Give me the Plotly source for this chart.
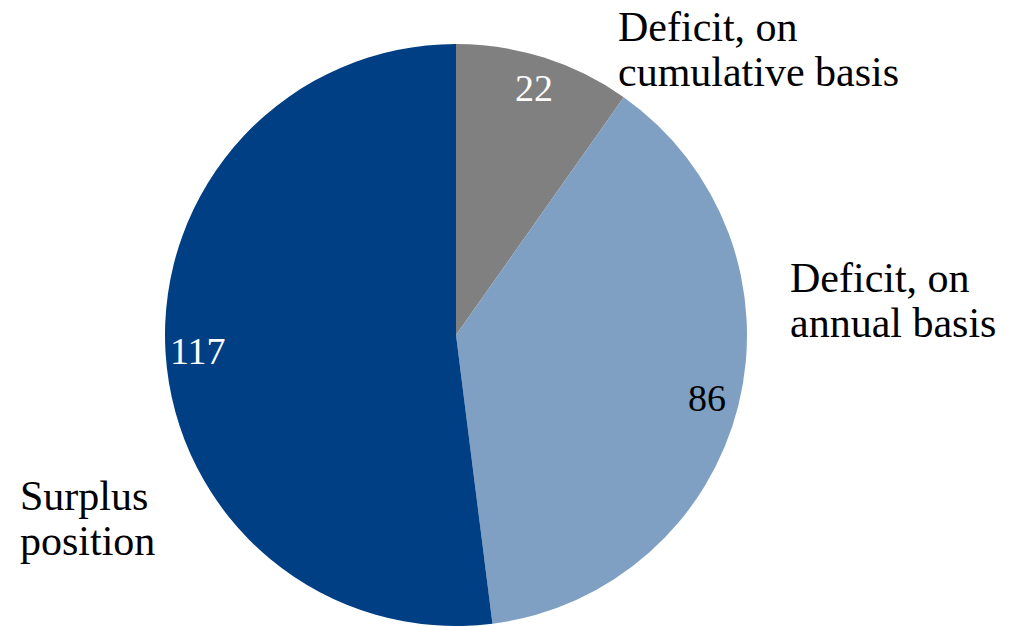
import math
import plotly.graph_objects as go

categories = ["Deficit, on cumulative basis", "Deficit, on annual basis", "Surplus position"]
values = [22, 86, 117]
colors = ["#808080", "#7FA0C3", "#003F84"]
value_font_colors = ["white", "black", "white"]
label_lines = [["Deficit, on", "cumulative basis"], ["Deficit, on", "annual basis"], ["Surplus", "position"]]

W, H = 1020, 627
FONT = "Liberation Serif"
FS_LABEL = 42
FS_VALUE = 38
LINE_GAP = 45  # pixels between baselines

cx, cy, R = 456, 335, 291  # pie centre/radius in pixels
dom_x = [(cx - R) / W, (cx + R) / W]
dom_y = [(H - (cy + R)) / H, (H - (cy - R)) / H]

fig = go.Figure(go.Pie(
    labels=categories, values=values, sort=False, direction="clockwise", rotation=0,
    marker=dict(colors=colors, line=dict(color="white", width=0)),
    textinfo="none", hoverinfo="label+value", showlegend=False,
    domain=dict(x=dom_x, y=dom_y),
))

annotations = []
total = sum(values)
cum = 0
for v, fc in zip(values, value_font_colors):
    mid = (cum + v / 2) / total * 2 * math.pi
    cum += v
    r = 0.89 * R
    px = cx + r * math.sin(mid)
    py = cy - r * math.cos(mid)
    annotations.append(dict(x=px / W, y=1 - py / H, xref="paper", yref="paper",
                            text=str(v), showarrow=False,
                            font=dict(family=FONT, size=FS_VALUE, color=fc),
                            xanchor="center", yanchor="middle"))

# (left x, vertical centre of first line) in pixels
label_pos = [(616, 27), (788, 278), (18, 496)]
for lines, (lx, ly) in zip(label_lines, label_pos):
    for i, t in enumerate(lines):
        annotations.append(dict(x=lx / W, y=1 - (ly + i * LINE_GAP) / H,
                                xref="paper", yref="paper",
                                text=t, showarrow=False, align="left",
                                font=dict(family=FONT, size=FS_LABEL, color="black"),
                                xanchor="left", yanchor="middle"))

fig.update_layout(width=W, height=H, margin=dict(l=0, r=0, t=0, b=0),
                  paper_bgcolor="white", plot_bgcolor="white",
                  annotations=annotations)
fig.write_html("out.html")
